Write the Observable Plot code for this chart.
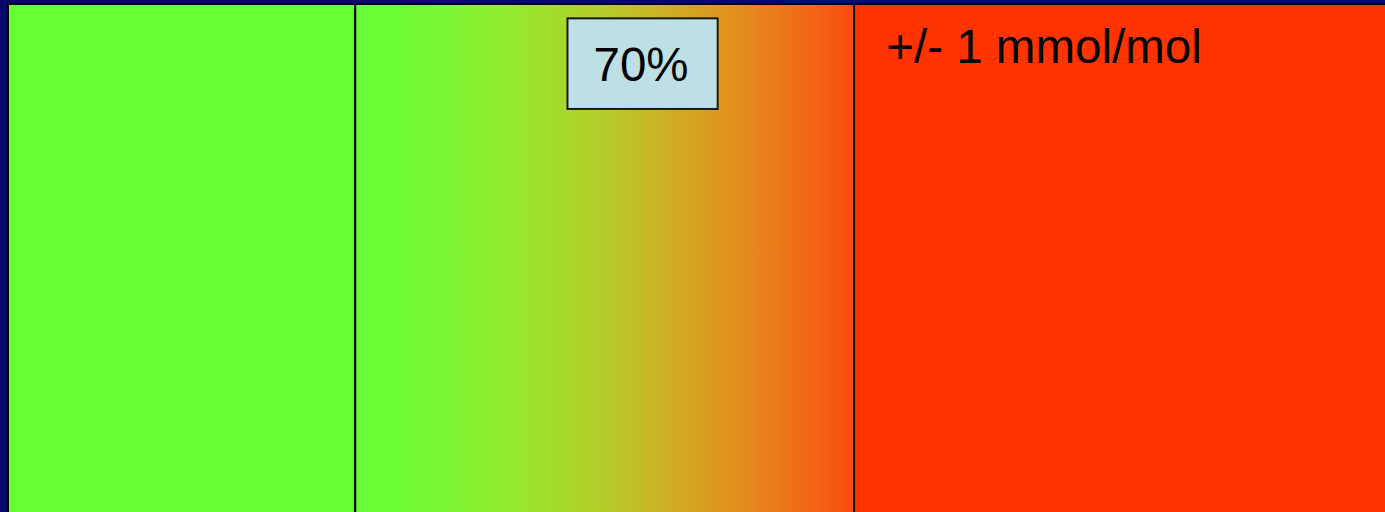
<!DOCTYPE html>
<html>
<head>
<meta charset="utf-8">
<script src="https://cdn.jsdelivr.net/npm/d3@7"></script>
<script src="https://cdn.jsdelivr.net/npm/@observablehq/plot@0.6"></script>
<style>
  html, body { margin: 0; padding: 0; background: #06086b; overflow: hidden; }
  #chart svg { display: block; }
</style>
</head>
<body>
<div id="chart"></div>
<script>
// Zones along the scale (percent of the band width)
const zoneNames = ["low", "transition", "high"];
const zoneStart = [0, 25.2, 61.4];
const zoneEnd = [25.2, 61.4, 100];
const zoneFills = ["#66ff33", "url(#zoneGrad)", "#ff3300"];

// Gradient stops for the transition zone
const gradOffsets = [0, 0.09, 0.29, 0.49, 0.59, 0.69, 0.79, 0.89, 1];
const gradColors = ["#66ff33", "#6cfc33", "#90ec30", "#b4ce2a", "#c8b826", "#d8a020", "#e6881c", "#f06c18", "#fb4c10"];

// Annotation box and labels
const boxLabel = "70%";
const boxX = [40.6, 51.5];
const boxY = [2.8, 20.5];
const boxLabelX = 45.9;
const boxLabelY = 11.9;
const noteLabel = "+/- 1 mmol/mol";
const noteX = 63.7;
const noteY = 8.5;

const zones = zoneNames.map((name, i) => ({name, x1: zoneStart[i], x2: zoneEnd[i], fill: zoneFills[i]}));

const font = "'Liberation Sans', Arial, sans-serif";

const chart = Plot.plot({
  width: 1385,
  height: 512,
  margin: 0,
  style: {background: "transparent", fontFamily: font},
  x: {domain: [0, 100], range: [8, 1386], axis: null},
  y: {domain: [0, 100], range: [4, 516], axis: null},
  marks: [
    Plot.rect(zones, {x1: "x1", x2: "x2", y1: 0, y2: 100, fill: d => d.fill, stroke: "#000", strokeWidth: 2}),
    Plot.rect([{x1: boxX[0], x2: boxX[1], y1: boxY[0], y2: boxY[1]}], {x1: "x1", x2: "x2", y1: "y1", y2: "y2", fill: "#bce0e4", stroke: "#1a1a1a", strokeWidth: 2}),
    Plot.text([boxLabel], {x: boxLabelX, y: boxLabelY, text: d => d, fontSize: 47.5, fill: "#000", textAnchor: "middle", fontFamily: font}),
    Plot.text([noteLabel], {x: noteX, y: noteY, text: d => d, fontSize: 47.5, fill: "#000", textAnchor: "start", fontFamily: font})
  ]
});

// Add the gradient definition
const ns = "http://www.w3.org/2000/svg";
const defs = document.createElementNS(ns, "defs");
const grad = document.createElementNS(ns, "linearGradient");
grad.setAttribute("id", "zoneGrad");
grad.setAttribute("x1", "0"); grad.setAttribute("x2", "1");
grad.setAttribute("y1", "0"); grad.setAttribute("y2", "0");
gradOffsets.forEach((o, i) => {
  const s = document.createElementNS(ns, "stop");
  s.setAttribute("offset", o);
  s.setAttribute("stop-color", gradColors[i]);
  grad.appendChild(s);
});
defs.appendChild(grad);
chart.insertBefore(defs, chart.firstChild);
chart.style.background = "#06086b";

document.getElementById("chart").appendChild(chart);
</script>
</body>
</html>
